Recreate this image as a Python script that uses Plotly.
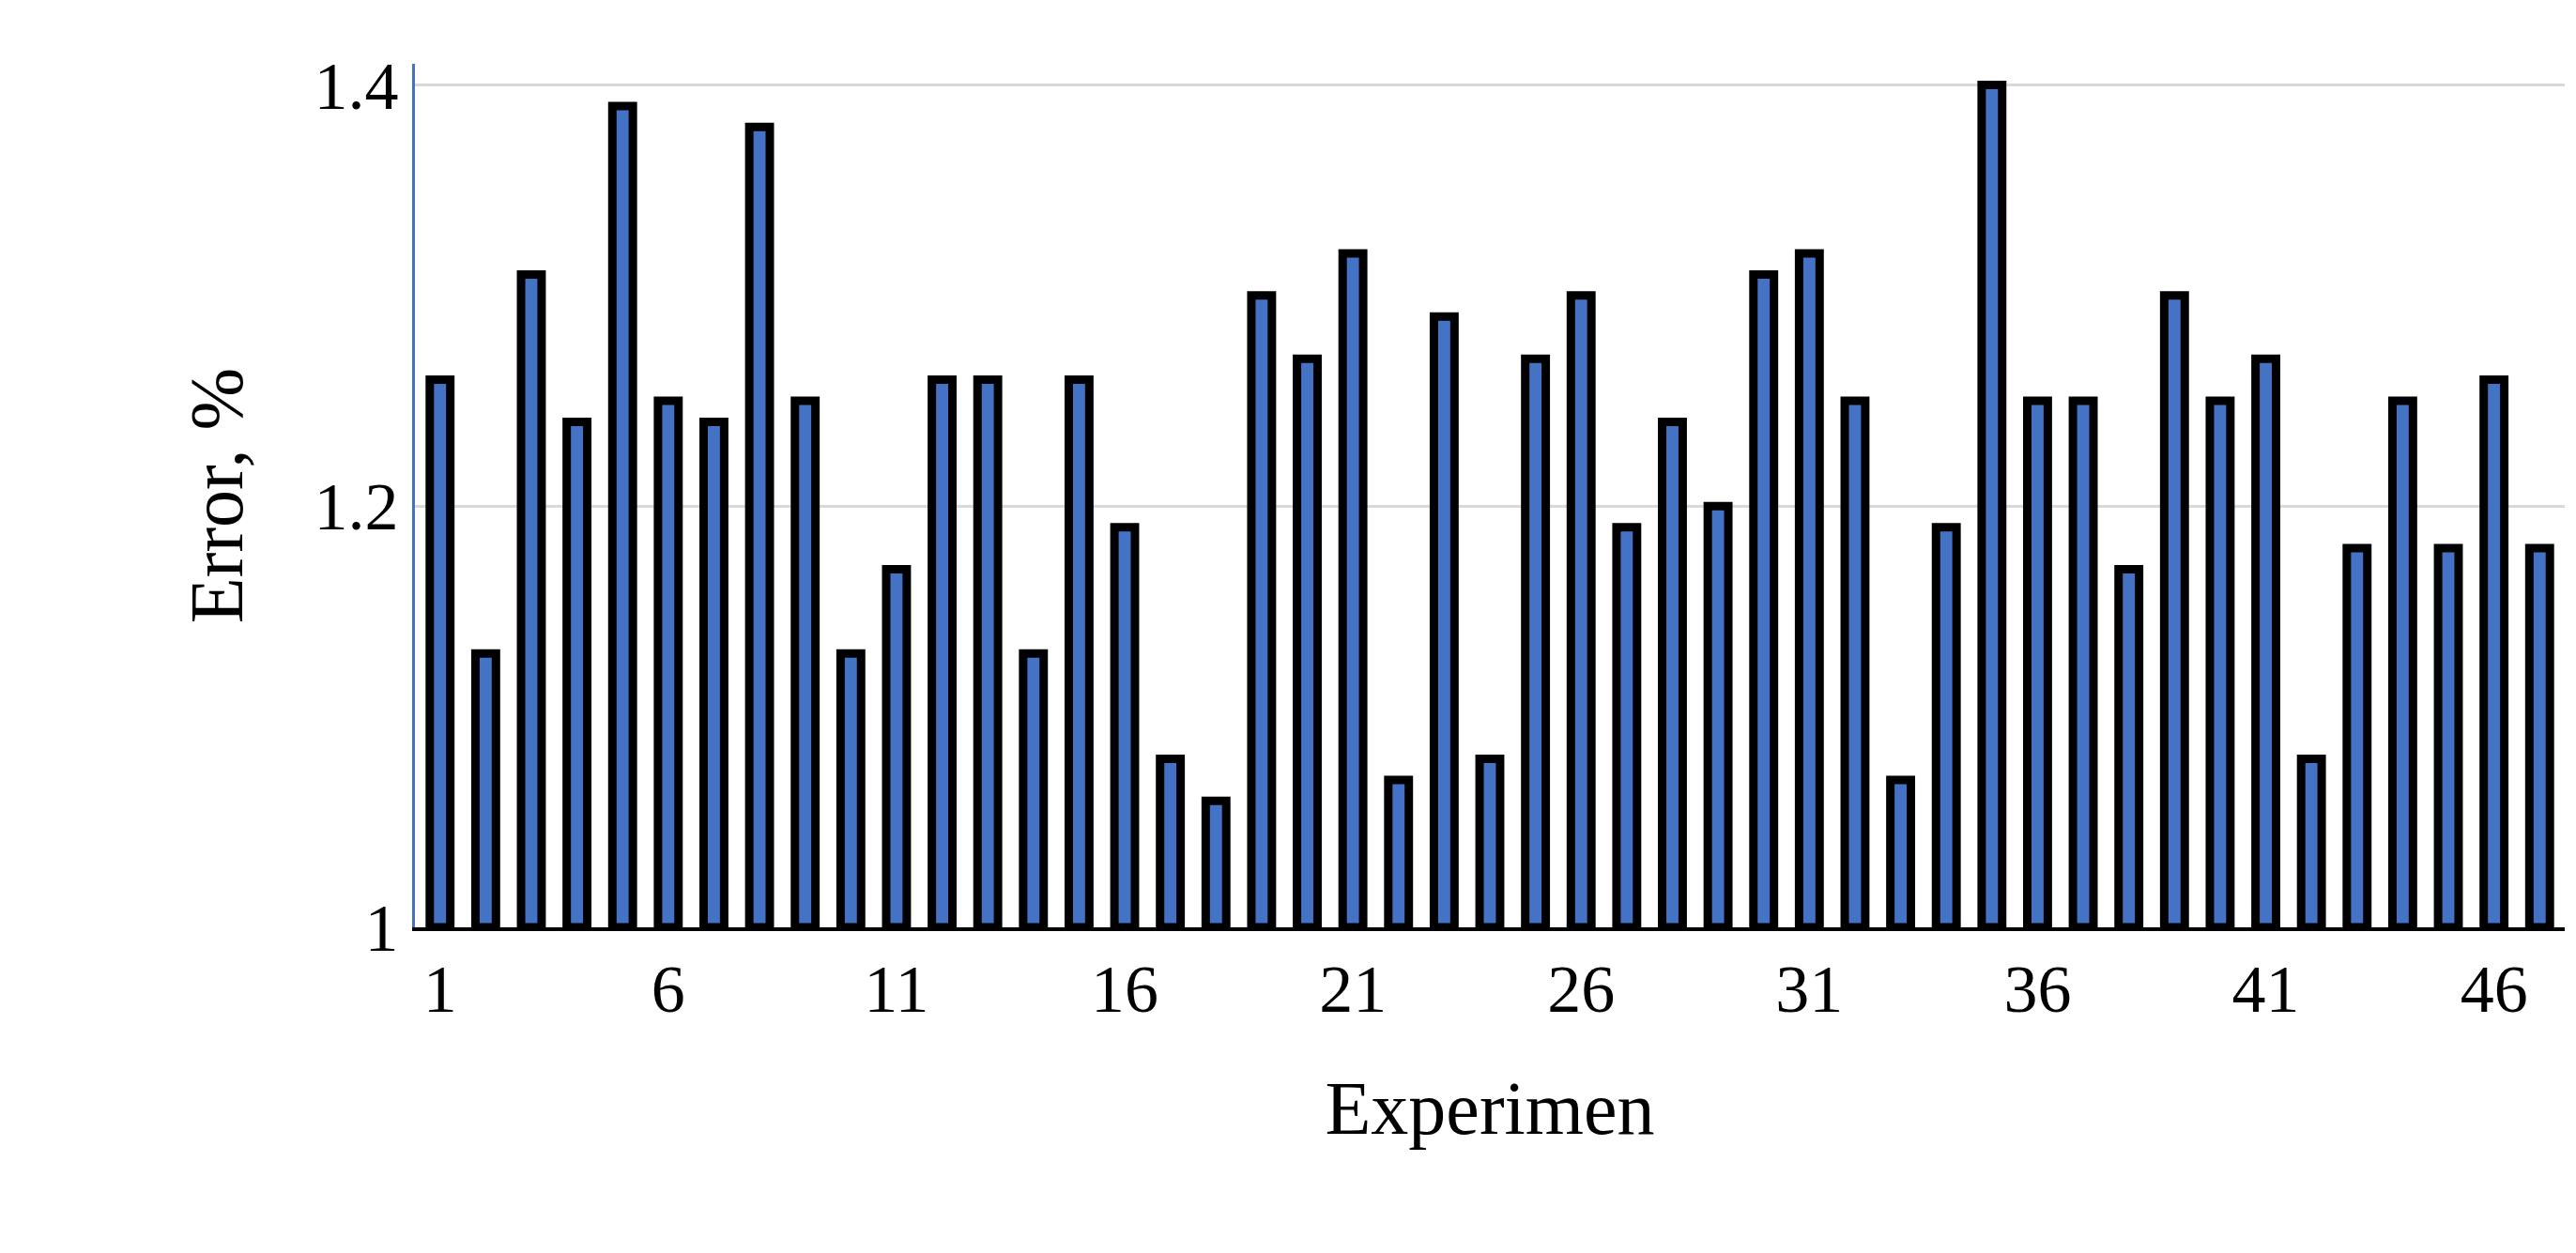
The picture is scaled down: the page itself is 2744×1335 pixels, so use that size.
import plotly.graph_objects as go

experiments = list(range(1, 48))
errors = [1.26, 1.13, 1.31, 1.24, 1.39, 1.25, 1.24, 1.38, 1.25, 1.13,
          1.17, 1.26, 1.26, 1.13, 1.26, 1.19, 1.08, 1.06, 1.30, 1.27,
          1.32, 1.07, 1.29, 1.08, 1.27, 1.30, 1.19, 1.24, 1.20, 1.31,
          1.32, 1.25, 1.07, 1.19, 1.40, 1.25, 1.25, 1.17, 1.30, 1.25,
          1.27, 1.08, 1.18, 1.25, 1.18, 1.26, 1.18]
tick_vals = [1, 6, 11, 16, 21, 26, 31, 36, 41, 46]

fig = go.Figure(go.Bar(
    x=experiments, y=[e - 1 for e in errors], base=1,
    marker=dict(color="#4472C4", line=dict(color="black", width=9)),
    width=0.45,
))
font = dict(family="Liberation Serif, Times New Roman, serif", color="black")
fig.update_layout(
    width=2744, height=1335, plot_bgcolor="white", paper_bgcolor="white",
    margin=dict(l=434, r=20, t=60, b=355),
    showlegend=False,
    xaxis=dict(range=[0.45, 47.55], tickvals=tick_vals, ticks="", showgrid=False,
               tickfont=dict(size=72, **font),
               title=dict(text="Experimen", font=dict(size=80, **font), standoff=60),
               showline=True, linecolor="black", linewidth=4),
    yaxis=dict(range=[1, 1.41], tickvals=[1, 1.2, 1.4], ticktext=["1", "1.2", "1.4"],
               showgrid=True, gridcolor="#d9d9d9", gridwidth=3, ticks="",
               tickfont=dict(size=72, **font), zeroline=False,
               title=dict(text="Error, %", font=dict(size=80, **font), standoff=50),
               showline=True, linecolor="#4472C4", linewidth=3),
)
fig.write_html("out.html")
